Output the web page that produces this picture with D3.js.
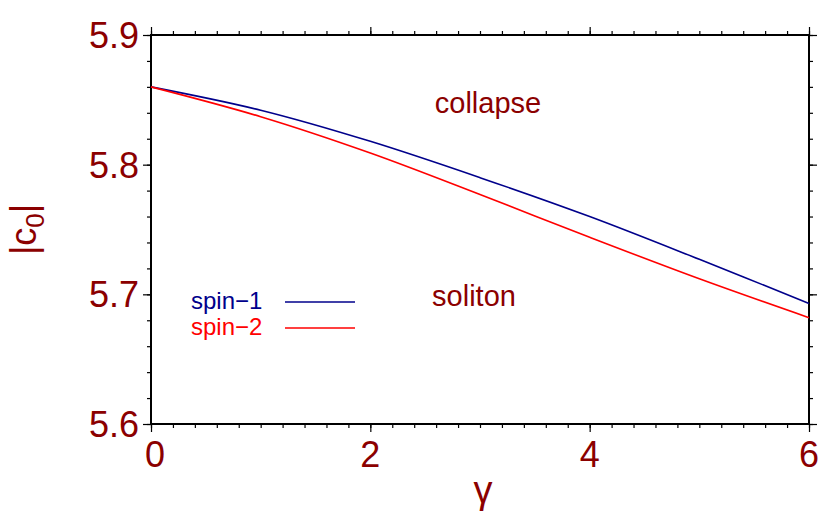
<!DOCTYPE html>
<html>
<head>
<meta charset="utf-8">
<script src="https://cdn.jsdelivr.net/npm/d3@7"></script>
<style>
body { margin: 0; background: #fff; }
text { font-family: "Liberation Sans", Arial, sans-serif; }
</style>
</head>
<body>
<div id="chart"></div>
<script>
// data
const gamma = [0, 1, 2, 3, 4, 5, 6];
const spin1 = [5.860, 5.842, 5.818, 5.790, 5.760, 5.727, 5.693];
const spin2 = [5.860, 5.837, 5.809, 5.777, 5.744, 5.712, 5.682];
const xTicks = [0, 2, 4, 6];
const yTicks = [5.6, 5.7, 5.8, 5.9];

const width = 830, height = 526;
const margin = {left: 151, right: 21, top: 35, bottom: 102};
const darkRed = "#8b0000";

const svg = d3.select("#chart").append("svg")
    .attr("width", width)
    .attr("height", height);

const x = d3.scaleLinear().domain([0, 6]).range([margin.left, width - margin.right]);
const y = d3.scaleLinear().domain([5.6, 5.9]).range([height - margin.bottom, margin.top]);

// minor ticks on all four sides, pointing out
const xMinor = d3.range(0, 6.001, 0.2);
const yMinor = d3.range(5.6, 5.9001, 0.02);

function side(axisFn, scale, ticks, len, tx, ty) {
    svg.append("g")
        .attr("transform", `translate(${tx},${ty})`)
        .call(axisFn(scale).tickValues(ticks).tickSize(len).tickFormat(""))
        .call(g => g.select(".domain").remove())
        .selectAll("line").attr("stroke", "#000").attr("stroke-width", 1.2);
}
const yb = y(5.6), yt = y(5.9), xl = x(0), xr = x(6);
side(d3.axisBottom, x, xMinor, 4, 0, yb);
side(d3.axisTop, x, xMinor, 4, 0, yt);
side(d3.axisLeft, y, yMinor, 4, xl, 0);
side(d3.axisRight, y, yMinor, 4, xr, 0);
side(d3.axisBottom, x, xTicks, 8, 0, yb);
side(d3.axisTop, x, xTicks, 8, 0, yt);
side(d3.axisLeft, y, yTicks, 8, xl, 0);
side(d3.axisRight, y, yTicks, 8, xr, 0);

svg.append("rect")
    .attr("x", xl).attr("y", yt)
    .attr("width", xr - xl).attr("height", yb - yt)
    .attr("fill", "none").attr("stroke", "#000").attr("stroke-width", 2);

// tick labels
svg.selectAll(".xl").data(xTicks).enter().append("text")
    .attr("x", d => x(d) + (d === 0 ? 4 : 0))
    .attr("y", yb + 43)
    .attr("text-anchor", "middle")
    .attr("font-size", 36)
    .attr("fill", darkRed)
    .text(d => d);

svg.selectAll(".yl").data(yTicks).enter().append("text")
    .attr("x", xl - 12)
    .attr("y", d => y(d) + 13)
    .attr("text-anchor", "end")
    .attr("font-size", 36)
    .attr("fill", darkRed)
    .text(d => d.toFixed(1));

// axis titles
svg.append("text")
    .attr("x", (xl + xr) / 2 + 3)
    .attr("y", 503)
    .attr("text-anchor", "middle")
    .attr("font-size", 38)
    .attr("font-family", "DejaVu Serif")
    .attr("fill", darkRed)
    .text("γ");

const yt2 = svg.append("text")
    .attr("transform", `translate(36,${(yt + yb) / 2}) rotate(-90)`)
    .attr("text-anchor", "middle")
    .attr("font-size", 36)
    .attr("fill", darkRed);
yt2.append("tspan").text("|c");
yt2.append("tspan").attr("font-size", 26).attr("dy", 8).text("0");
yt2.append("tspan").attr("dy", -8).text("|");

// curves
const line = d3.line()
    .x((d, i) => x(gamma[i]))
    .y(d => y(d))
    .curve(d3.curveCatmullRom);

const series = [
    {name: "spin\u22121", values: spin1, color: "#00008b"},
    {name: "spin\u22122", values: spin2, color: "#ff0000"}
];

svg.selectAll(".curve").data(series).enter().append("path")
    .attr("d", d => line(d.values))
    .attr("fill", "none")
    .attr("stroke", d => d.color)
    .attr("stroke-width", 1.6);

// legend
series.forEach((s, i) => {
    const ly = 309 + i * 26;
    svg.append("text")
        .attr("x", 191).attr("y", ly)
        .attr("font-size", 24)
        .attr("fill", s.color)
        .text(s.name);
    svg.append("line")
        .attr("x1", 285).attr("x2", 355)
        .attr("y1", ly - 7).attr("y2", ly - 7)
        .attr("stroke", s.color)
        .attr("stroke-width", 1.6);
});

// region labels
svg.append("text")
    .attr("x", 488).attr("y", 113)
    .attr("text-anchor", "middle")
    .attr("font-size", 29)
    .attr("fill", darkRed)
    .text("collapse");
svg.append("text")
    .attr("x", 474).attr("y", 306)
    .attr("text-anchor", "middle")
    .attr("font-size", 29)
    .attr("fill", darkRed)
    .text("soliton");
</script>
</body>
</html>
